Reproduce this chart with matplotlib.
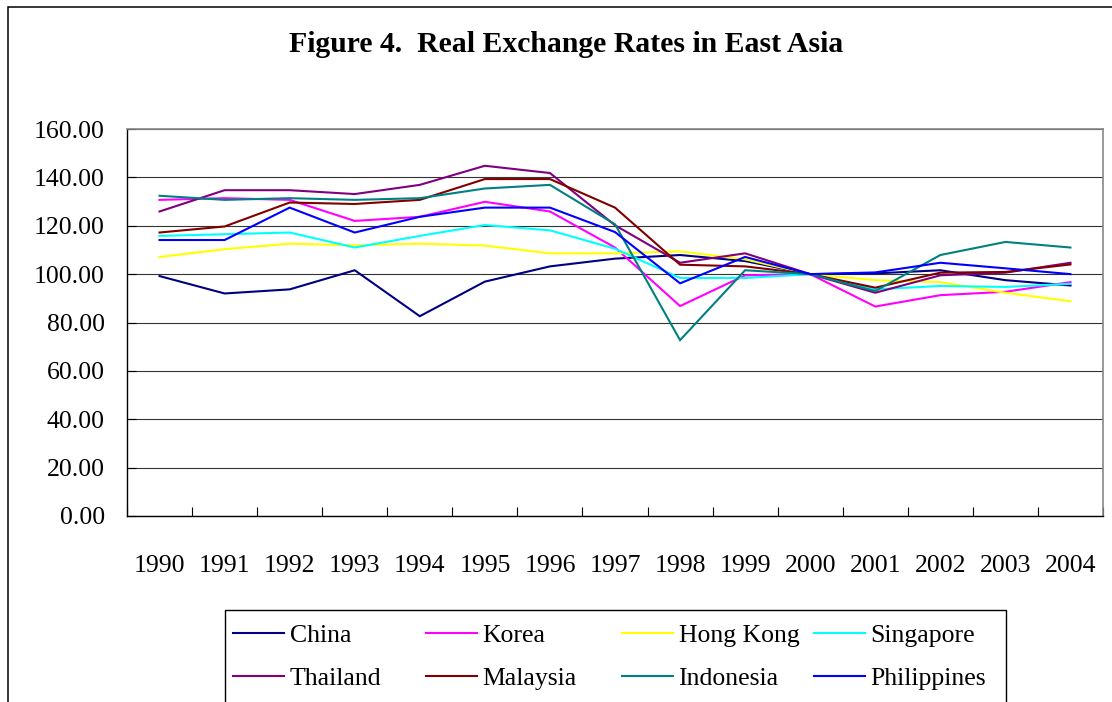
import matplotlib
matplotlib.use("Agg")
import matplotlib.pyplot as plt
from matplotlib.patches import Rectangle

years = ["1990", "1991", "1992", "1993", "1994", "1995", "1996", "1997",
         "1998", "1999", "2000", "2001", "2002", "2003", "2004"]

china       = [99.2, 92.0, 93.7, 101.6, 82.6, 96.9, 103.2, 106.4, 107.9, 105.4, 100.0, 100.3, 101.6, 97.5, 95.3]
korea       = [130.7, 131.4, 130.7, 122.0, 123.7, 129.9, 125.9, 111.0, 86.8, 99.5, 100.0, 86.6, 91.3, 92.7, 96.7]
hong_kong   = [107.1, 110.3, 112.6, 111.9, 112.6, 111.8, 108.6, 108.6, 109.4, 106.1, 100.0, 97.5, 96.7, 92.3, 88.8]
singapore   = [115.8, 116.5, 117.2, 111.0, 115.8, 120.3, 118.1, 110.5, 98.4, 98.4, 100.0, 93.7, 95.1, 94.7, 96.0]
thailand    = [125.9, 134.7, 134.7, 133.1, 136.9, 144.8, 141.8, 120.2, 104.7, 108.6, 100.0, 92.3, 99.5, 100.6, 104.7]
malaysia    = [117.2, 119.7, 129.6, 129.0, 130.7, 139.3, 139.3, 127.5, 103.9, 103.2, 100.0, 94.4, 100.6, 100.9, 104.0]
indonesia   = [132.4, 130.7, 131.4, 130.7, 131.4, 135.4, 136.9, 120.6, 72.7, 101.6, 100.0, 93.0, 107.9, 113.3, 111.0]
philippines = [114.1, 114.1, 127.5, 117.2, 123.7, 127.5, 127.5, 117.4, 96.2, 107.1, 100.0, 100.7, 104.7, 102.4, 100.0]

series_names = ["China", "Korea", "Hong Kong", "Singapore",
                "Thailand", "Malaysia", "Indonesia", "Philippines"]
series_values = [china, korea, hong_kong, singapore,
                 thailand, malaysia, indonesia, philippines]
colors = ["#000080", "#FF00FF", "#FFFF00", "#00FFFF",
          "#800080", "#800000", "#008080", "#0000FF"]

yticks = [0, 20, 40, 60, 80, 100, 120, 140, 160]

plt.rcParams['font.family'] = ['Liberation Serif', 'DejaVu Serif']

W, H = 1112, 702
fig = plt.figure(figsize=(W / 100, H / 100), dpi=100)

# outer chart frame
fig.patches.append(Rectangle((8 / W, -0.1), 1.2, 1 - 7 / H + 0.1, transform=fig.transFigure,
                             fill=False, edgecolor="black", linewidth=1.1))

ax = fig.add_axes([127 / W, 1 - 516 / H, (1103 - 127) / W, (516 - 129) / H])

x = list(range(len(years)))
handles = []
for name, vals, c in zip(series_names, series_values, colors):
    h, = ax.plot(x, vals, color=c, linewidth=1.5, label=name, solid_joinstyle='miter')
    handles.append(h)

ax.set_xlim(-0.5, len(years) - 0.5)
ax.set_ylim(0, 160)
ax.set_yticks(yticks)
ax.set_yticklabels([f"{v:.2f}" for v in yticks])
ax.set_xticks([i + 0.5 for i in range(-1, len(years))])
ax.set_xticklabels([])
ax.set_xticks(x, minor=True)
ax.set_xticklabels(years, minor=True)
ax.tick_params(axis='x', which='major', direction='in', length=6.5, width=0.8, color='black')
ax.tick_params(axis='x', which='minor', length=0, pad=28, labelsize=18.5)
ax.tick_params(axis='y', which='major', direction='in', length=6.5, width=0.8, pad=16, labelsize=18.5)

ax.yaxis.grid(True, color='#333333', linewidth=0.8)
ax.set_axisbelow(True)
for s in ['top', 'right']:
    ax.spines[s].set_color('#888888')
    ax.spines[s].set_linewidth(1.2)
for s in ['left', 'bottom']:
    ax.spines[s].set_color('black')
    ax.spines[s].set_linewidth(1.0)

fig.text(0.5 * (290 + 842) / W, 1 - 45 / H, "Figure 4.  Real Exchange Rates in East Asia",
         ha='center', va='center', fontsize=21.4, fontweight='bold')

# legend frame
fig.patches.append(Rectangle((225 / W, -0.1), (1006 - 225) / W, 1 - 610 / H + 0.1,
                             transform=fig.transFigure, fill=False, edgecolor='black', linewidth=1.0))
col_x = [233, 426, 622, 814]
for ci in range(4):
    hs = [handles[ci], handles[ci + 4]]
    fig.legend(hs, [h.get_label() for h in hs], loc='upper left',
               bbox_to_anchor=(col_x[ci] / W, 1 - 624 / H), frameon=False,
               fontsize=18.5, handlelength=2.0, handletextpad=0.2,
               labelspacing=0.78, borderaxespad=0, borderpad=0)

fig.savefig("out.png", dpi=100)
